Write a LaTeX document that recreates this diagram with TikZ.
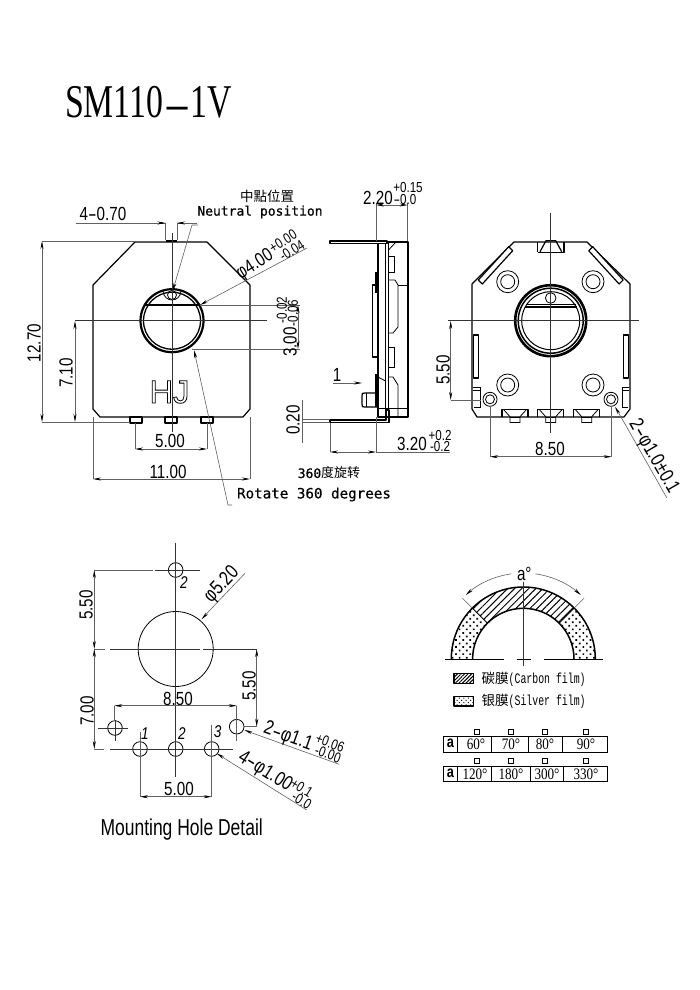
\documentclass[tikz,border=0pt]{standalone}
\usepackage{fontspec}
\usetikzlibrary{arrows.meta,patterns.meta}
\setmainfont{Liberation Sans}
\newfontfamily\dimf[FakeStretch=0.8]{Liberation Sans}
\newfontfamily\titlef[FakeStretch=0.72]{Liberation Serif}
\newfontfamily\serf[FakeStretch=0.82]{Liberation Serif}
\newfontfamily\monof[FakeBold=0.5]{DejaVu Sans Mono}
\newfontfamily\narrowf[FakeStretch=0.68]{Liberation Mono}
\newfontfamily\mountf[FakeStretch=0.76]{Liberation Sans}
\newfontfamily\cjkf{Noto Sans CJK TC}
\newcommand\ld{\scalebox{1.7}[1]{-}}
\newcommand\fsz[1]{\fontsize{#1}{#1}\selectfont}
\tikzset{
 part/.style={draw=black,line width=1.2pt,line join=round},
 thickpart/.style={draw=black,line width=1.8pt},
 thinpart/.style={draw=black,line width=.8pt},
 dl/.style={draw=black!62,line width=.6pt},
 cl/.style={draw=black!80,line width=.7pt},
 dd/.style={dl,{Stealth[length=8pt,width=3pt,black]}-{Stealth[length=8pt,width=3pt,black]}},
 da/.style={dl,-{Stealth[length=8pt,width=3pt,black]}},
 lbl/.style={inner sep=0pt,font=\dimf\fsz{19}},
 lblb/.style={inner sep=0pt,font=\dimf\fsz{20}},
 tol/.style={inner sep=0pt,font=\dimf\fsz{14.5}},
 note/.style={inner sep=0pt,font=\monof\fsz{13}},
 cjk/.style={inner sep=0pt,font=\cjkf\fsz{13.5}},
 num/.style={inner sep=0pt,font=\dimf\itshape\fsz{17}},
 cell/.style={inner sep=0pt,font=\serf\fsz{16}},
 sq/.style={draw=black,line width=.8pt,minimum size=5pt,inner sep=0pt},
}
\begin{document}
\begin{tikzpicture}[x=1pt,y=-1pt]
\useasboundingbox[fill=white] (0,0) rectangle (700,990);
\node[inner sep=0pt,font=\titlef\fsz{47}] (title) at (148.5,102) {SM110\scalebox{2.4}[.8]{-}1V};

% ---------- front view
\draw[part] (135,242)--(207,242)--(250,285)--(250,409)--(243,417)--(100,417)--(93,409)--(93,285)--cycle;
\draw[part] (130,417) rectangle (142,423);
\draw[part] (165,417) rectangle (177,423);
\draw[part] (201,417) rectangle (213,423);
\draw[thickpart,line width=2pt] (165.5,241) -- (177,241);
\draw[draw=black,line width=2.2pt] (172,320.7) circle[radius=31.5];
\draw[draw=black,line width=1.3pt] (172,320.7) circle[radius=28.5];
\draw[draw=black,line width=1.8pt] (145,305) -- (199,305);
\draw[thinpart] (172,295) circle[radius=4.5];
\draw[thinpart] (163,291) .. controls (164,303) and (180,303) .. (181,291);
\draw[cl] (172,233) -- (172,432);
\draw[cl] (75,320.7) -- (267,320.7);
\node[inner sep=0pt,font=\fsz{32.5}] (hj) at (169.5,392) {\special{pdf:literal 1 Tr 0.8 w}HJ\special{pdf:literal 0 Tr}};

\draw[dd] (42,241) -- (42,422);
\draw[dl] (42,241) -- (165,241) (42,422) -- (130,422);
\node[lbl,rotate=90] (d1270) at (34,343) {12.70};
\draw[dd] (75,321) -- (75,422);
\node[lbl,rotate=90] (d710) at (66,373) {7.10};
\draw[dl] (76,223) -- (165.5,223) (165.5,223) -- (165.5,240) (177,223) -- (177,240) (177,223)--(197,223);
\draw[da] (150,223) -- (165.5,223);
\draw[da] (192,223) -- (177,223);
\node[lbl] (d470) at (103,214) {4\ld0.70};
\node[cjk] (zd) at (267,196) {中點位置};
\node[note] (np) at (260,212) {Neutral position};
\draw[da] (198,225) -- (192,225) -- (172.7,291);
\draw[dl] (307,248) -- (215,297);
\draw[da] (215,297) -- (200,305);
\node[lbl,rotate=32] (d400) at (255,265) {φ4.00};
\node[tol,rotate=32] (d400a) at (283,241) {+0.00};
\node[tol,rotate=32] (d400b) at (292,250.5) {-0.04};
\draw[dl] (200,305) -- (300,305) (192,349) -- (300,349);
\draw[dd] (298,305) -- (298,349);
\node[lbl,rotate=90] (d300) at (290,342) {3.00};
\node[tol,rotate=90] (d300a) at (282,310) {-0.02};
\node[tol,rotate=90] (d300b) at (293,313) {-0.06};
\draw[dd] (135,449) -- (207,449);
\draw[dl] (135.5,423) -- (135.5,449) (207,423) -- (207,449);
\node[lbl] (d500) at (170,441) {5.00};
\draw[dd] (93,479) -- (250,479);
\draw[dl] (93,417) -- (93,479) (250,417) -- (250,479);
\node[lbl] (d1100) at (168,472) {11.00};
\draw[da] (232,505) -- (228,505) -- (194,350);
\node[inner sep=0pt,font=\monof\fsz{13}] (r1) at (329,473) {360\cjkf 度旋转};
\node[note,font=\monof\fsz{14.2}] (r2) at (314,494.5) {Rotate 360 degrees};

% ---------- side view
\draw[part] (330,241) rectangle (387,243.5);
\draw[part] (330,420) -- (386,420) -- (386,410) -- (389,410) -- (389,422.5) -- (330,422.5) -- cycle;
\draw[part] (378,243) -- (378,417) -- (408,417) -- (408,242) -- (388,242);
\draw[thinpart] (385.5,243) -- (385.5,417) (388.5,243) -- (388.5,417);
\draw[thinpart] (398,285) -- (408,285) (378,408) -- (408,408);
\draw[part] (372.7,285) rectangle (378,357);
\draw[part] (376,272) -- (376,293);
\draw[part] (376,374) -- (376,407);
\draw[part] (378,393) -- (365,393) .. controls (362,393) and (362,393) .. (362,396) -- (362,404) .. controls (362,407) and (362,407) .. (365,407) -- (378,407);
\draw[thinpart] (366,393) -- (366,407);
\draw[thinpart] (388.5,280) -- (395,280) -- (398,285) -- (398,327) -- (393,333) -- (388.5,333);
\draw[thinpart] (388.5,250) -- (395,243);
\draw[thinpart] (388.5,256) rectangle (394,272);
\draw[thinpart] (388.5,347) rectangle (394,367);
\draw[thinpart] (388.5,377) -- (393,377) -- (398,385) -- (398,417);
\draw[thinpart] (378,377) -- (385.5,381);
\draw[dl] (376,203) -- (376,241) (407.7,203) -- (407.7,241);
\draw[dd] (376,205) -- (407.7,205);
\node[lbl] (d220) at (378,198) {2.20};
\node[tol] (d220a) at (408,188) {+0.15};
\node[tol] (d220b) at (405,199.5) {\ld0.0};
\node[lbl] (d1) at (337,375) {1};
\draw[da] (333,383) -- (362,383);
\draw[dl] (302,419.5) -- (330,419.5) (302,422.7) -- (330,422.7);
\draw[dl] (302.5,400) -- (302.5,443);
\node[lbl,rotate=90] (d020) at (293,420) {0.20};
\draw[dl] (330,423) -- (330,452) (376,417) -- (376,452) (376,452) -- (450,452);
\draw[dd] (330,452) -- (376,452);
\node[lbl] (d320) at (412,444) {3.20};
\node[tol] (d320a) at (440,436) {+0.2};
\node[tol] (d320b) at (440,447) {-0.2};

% ---------- back view
\draw[part] (514,242)--(587,242)--(630,284)--(630,409)--(624,417)--(477,417)--(472,409)--(472,284)--cycle;
\draw[part,fill=white] (478.3,280)--(482.3,284)--(512.7,250.7)--(508.7,246.7)--cycle;
\draw[part,fill=white] (623.1,280)--(619.1,284)--(588.7,250.7)--(592.7,246.7)--cycle;
\draw[part] (473.3,335) rectangle (478.3,378);
\draw[part] (623.5,335) rectangle (628.5,378);
\draw[thinpart] (472.5,390) -- (480,390) -- (480,407) -- (474,407) (472.5,387) -- (480,387) -- (480,390);
\draw[thinpart] (629,390) -- (622,390) -- (622,407) -- (628,407) (629,387) -- (622,387) -- (622,390);
\draw[part] (537.7,252.3) -- (537.7,242) (564,242) -- (564,252.3) -- (537.7,252.3);
\draw[part] (540,251.7) -- (546,240.7) -- (555.7,240.7) -- (561.7,251.7);
\foreach \cx in {515,550.7,586.7}{
 \draw[part] (\cx-13,416.7) -- (\cx-13,409.5) -- (\cx+13,409.5) -- (\cx+13,416.7);
 \draw[thinpart] (\cx-11,410) -- (\cx-5,416.7) -- (\cx-5,422.5) -- (\cx+5,422.5) -- (\cx+5,416.7) -- (\cx+11,410);
 \draw[thinpart] (\cx-5,417) -- (\cx+5,417);
}
\foreach \hx/\hy in {507.7/281.7,593/281.7,507.7/385,593/385}{
 \draw[thinpart] (\hx,\hy) circle[radius=11];
 \draw[thinpart] (\hx,\hy) circle[radius=7];
}
\foreach \hx in {490,611}{
 \draw[thinpart] (\hx,399.3) circle[radius=7];
 \draw[thinpart] (\hx,399.3) circle[radius=4.5];
}
\draw[draw=black,line width=2.6pt] (550.7,320.7) circle[radius=35.5];
\draw[draw=black,line width=1.5pt] (550.7,320.7) circle[radius=32.5];
\draw[draw=black,line width=1pt] (550.7,320.7) circle[radius=29];
\draw[thinpart] (525.5,304) -- (576,304);
\draw[draw=black,line width=1.1pt] (524.7,307) -- (576.7,307);
\draw[thinpart] (550.7,298) circle[radius=5.3];
\draw[cl] (550.7,212.7) -- (550.7,433);
\draw[cl] (448,320.7) -- (639,320.7);
\draw[dd] (450.7,321) -- (450.7,400);
\draw[dl] (450.7,400) -- (481,400);
\node[lbl,rotate=90] (d550a) at (443,370) {5.50};
\draw[dd] (490,456.7) -- (611.7,456.7);
\draw[dl] (490,406) -- (490,456.7) (611.7,406) -- (611.7,456.7);
\node[lbl] (d850a) at (550,449) {8.50};
\draw[dl] (666.7,497.7) -- (625,424);
\draw[da] (625,424) -- (615,406.7);
\node[lblb,rotate=-60] (d10) at (653.5,456.5) {2\ld φ1.0±0.1};

% ---------- mounting detail
\draw[thinpart] (175.7,649) circle[radius=37.5];
\draw[thinpart] (175.7,570) circle[radius=7.3];
\draw[thinpart] (115,728) circle[radius=7.3];
\draw[thinpart] (236.7,726.7) circle[radius=7.3];
\draw[thinpart] (140,749) circle[radius=7.3];
\draw[thinpart] (175.7,749) circle[radius=7.3];
\draw[thinpart] (211.7,749) circle[radius=7.3];
\draw[cl] (175.7,542.7) -- (175.7,776.7);
\draw[cl] (155,570) -- (200,570);
\draw[cl] (110,649) -- (200,649) (203,649) -- (256.7,649);
\draw[cl] (98,728) -- (128,728) (115,720) -- (115,741);
\draw[cl] (110,749) -- (232.7,749);
\draw[dl] (94.3,570) -- (153,570) (94.3,649) -- (105,649) (94.3,749) -- (104,749);
\draw[dd] (94.3,570) -- (94.3,649);
\draw[dd] (94.3,649) -- (94.3,749);
\node[lbl,rotate=90] (m550) at (86,605) {5.50};
\node[lbl,rotate=90] (m700) at (87,711) {7.00};
\draw[dd] (256.7,649) -- (256.7,726.7);
\draw[dl] (244,726.7) -- (256.7,726.7);
\node[lbl,rotate=90] (m550b) at (249,686) {5.50};
\draw[dd] (114.3,705.7) -- (236.7,705.7);
\draw[dl] (114.3,705.7) -- (114.3,720) (236.7,705.7) -- (236.7,741);
\node[lbl] (m850) at (178,699) {8.50};
\draw[dd] (140,796.7) -- (211.7,796.7);
\draw[dl] (140,731.7) -- (140,796.7) (211.7,725) -- (211.7,796.7);
\node[lbl] (m500) at (179,789) {5.00};
\node[num] (n2t) at (184,583) {2};
\node[num] (n1) at (145,734) {1};
\node[num] (n2) at (182,734) {2};
\node[num] (n3) at (217.7,732) {3};
\draw[dl] (245,573.3) -- (210,610);
\draw[da] (210,610) -- (201.7,619.3);
\node[lblb,rotate=47] (m520) at (222,585) {φ5.20};
\draw[dl] (339.3,764.3) -- (255,734);
\draw[da] (255,734) -- (244.3,730);
\node[lblb,rotate=-20] (m11) at (288,737) {2\ld φ1.1};
\node[tol,rotate=-20] (m11a) at (330,743) {+0.06};
\node[tol,rotate=-20] (m11b) at (328,754) {-0.00};
\draw[dl] (306.7,810) -- (227,760);
\draw[da] (227,760) -- (216.7,753.3);
\node[lblb,rotate=-32] (m100) at (265,771.7) {4\ld φ1.00};
\node[tol,rotate=-32] (m100a) at (301.7,788) {+0.1};
\node[tol,rotate=-32] (m100b) at (301.7,800.7) {-0.0};
\node[inner sep=0pt,font=\mountf\fsz{23}] (mhd) at (181.7,830) {Mounting Hole Detail};

% ---------- film arc
\coordinate (ac) at (523.3,659);
\fill[pattern={Lines[angle=45,distance=5pt,line width=1pt]},pattern color=black]
 ([shift={(-45:72)}]ac) arc[start angle=-45,end angle=-135,radius=72] -- ([shift={(-135:50.7)}]ac) arc[start angle=-135,end angle=-45,radius=50.7] -- cycle;
\fill[pattern={Dots[angle=45,distance=5pt,radius=1.2pt]},pattern color=black]
 ([shift={(0:72)}]ac) arc[start angle=0,end angle=-45,radius=72] -- ([shift={(-45:50.7)}]ac) arc[start angle=-45,end angle=0,radius=50.7] -- cycle;
\fill[pattern={Dots[angle=45,distance=5pt,radius=1.2pt]},pattern color=black]
 ([shift={(180:72)}]ac) arc[start angle=-180,end angle=-135,radius=72] -- ([shift={(-135:50.7)}]ac) arc[start angle=-135,end angle=-180,radius=50.7] -- cycle;
\draw[draw=black,line width=1.5pt] ([shift={(180:72)}]ac) arc[start angle=-180,end angle=0,radius=72];
\draw[draw=black,line width=1.5pt] ([shift={(180:50.7)}]ac) arc[start angle=-180,end angle=0,radius=50.7];
\draw[draw=black,line width=.9pt] ([shift={(-45:50.7)}]ac) -- ([shift={(-45:72)}]ac) ([shift={(-135:50.7)}]ac) -- ([shift={(-135:72)}]ac);
\draw[dl] ([shift={(-45:72)}]ac) -- ([shift={(-45:86)}]ac);
\draw[dl] ([shift={(-135:72)}]ac) -- ([shift={(-135:86)}]ac);
\draw[draw=black,line width=.9pt] (445,659) -- (504,659) (516.7,659) -- (531,659) (544,659) -- (603.3,659);
\draw[cl] (523.3,581.7) -- (523.3,665.7);
\draw[dl,{Stealth[length=8pt,width=3pt,black]}-] ([shift={(-132:86)}]ac) arc[start angle=-132,end angle=-98,radius=86];
\draw[dl,{Stealth[length=8pt,width=3pt,black]}-] ([shift={(-48:86)}]ac) arc[start angle=-48,end angle=-82,radius=86];
\node[inner sep=0pt,font=\dimf\fsz{19}] (aang) at (524.3,574) {a°};
\fill[pattern={Lines[angle=45,distance=2.5pt,line width=1pt]},pattern color=black] (454,673.3) rectangle (473.3,683.3);
\draw[part] (454,673.3) rectangle (473.3,683.3);
\fill[pattern={Dots[angle=45,distance=3.2pt,radius=.75pt]},pattern color=black] (454,696.7) rectangle (473.3,706);
\draw[part] (454,696.7) rectangle (473.3,706);
\node[inner sep=0pt,anchor=west] (lg1) at (481.5,679) {\cjkf\fsz{13.5}碳膜\narrowf\fsz{14.5}(Carbon film)};
\node[inner sep=0pt,anchor=west] (lg2) at (481.5,701.7) {\cjkf\fsz{13.5}银膜\narrowf\fsz{14.5}(Silver film)};

% ---------- tables
\draw[draw=black,line width=1pt] (443.3,736.7) rectangle (607.7,752.3);
\draw[draw=black,line width=1pt] (457.7,736.7) -- (457.7,752.3) (491.7,736.7) -- (491.7,752.3) (528.3,736.7) -- (528.3,752.3) (562.3,736.7) -- (562.3,752.3);
\draw[draw=black,line width=1pt] (443.3,766) rectangle (607.7,781.7);
\draw[draw=black,line width=1pt] (457.7,766) -- (457.7,781.7) (491.7,766) -- (491.7,781.7) (530,766) -- (530,781.7) (563.5,766) -- (563.5,781.7);
\node[cell,font=\dimf\bfseries\fsz{16}] (ta) at (450.5,743.5) {a};
\node[cell] (t1) at (476,744.3) {60°};
\node[cell] (t2) at (511,744.3) {70°};
\node[cell] (t3) at (545,744.3) {80°};
\node[cell] (t4) at (586,744.3) {90°};
\node[cell,font=\dimf\bfseries\fsz{16}] (tb) at (450.5,773) {a};
\node[cell] (u1) at (475,773.8) {120°};
\node[cell] (u2) at (511,773.8) {180°};
\node[cell] (u3) at (547,773.8) {300°};
\node[cell] (u4) at (586,773.8) {330°};
\foreach \sx/\nm in {477.3/a,511/b,545/c,586/d}{
 \node[sq] (s1\nm) at (\sx,731.7) {};
 \node[sq] (s2\nm) at (\sx,761) {};
}
\end{tikzpicture}
\end{document}
